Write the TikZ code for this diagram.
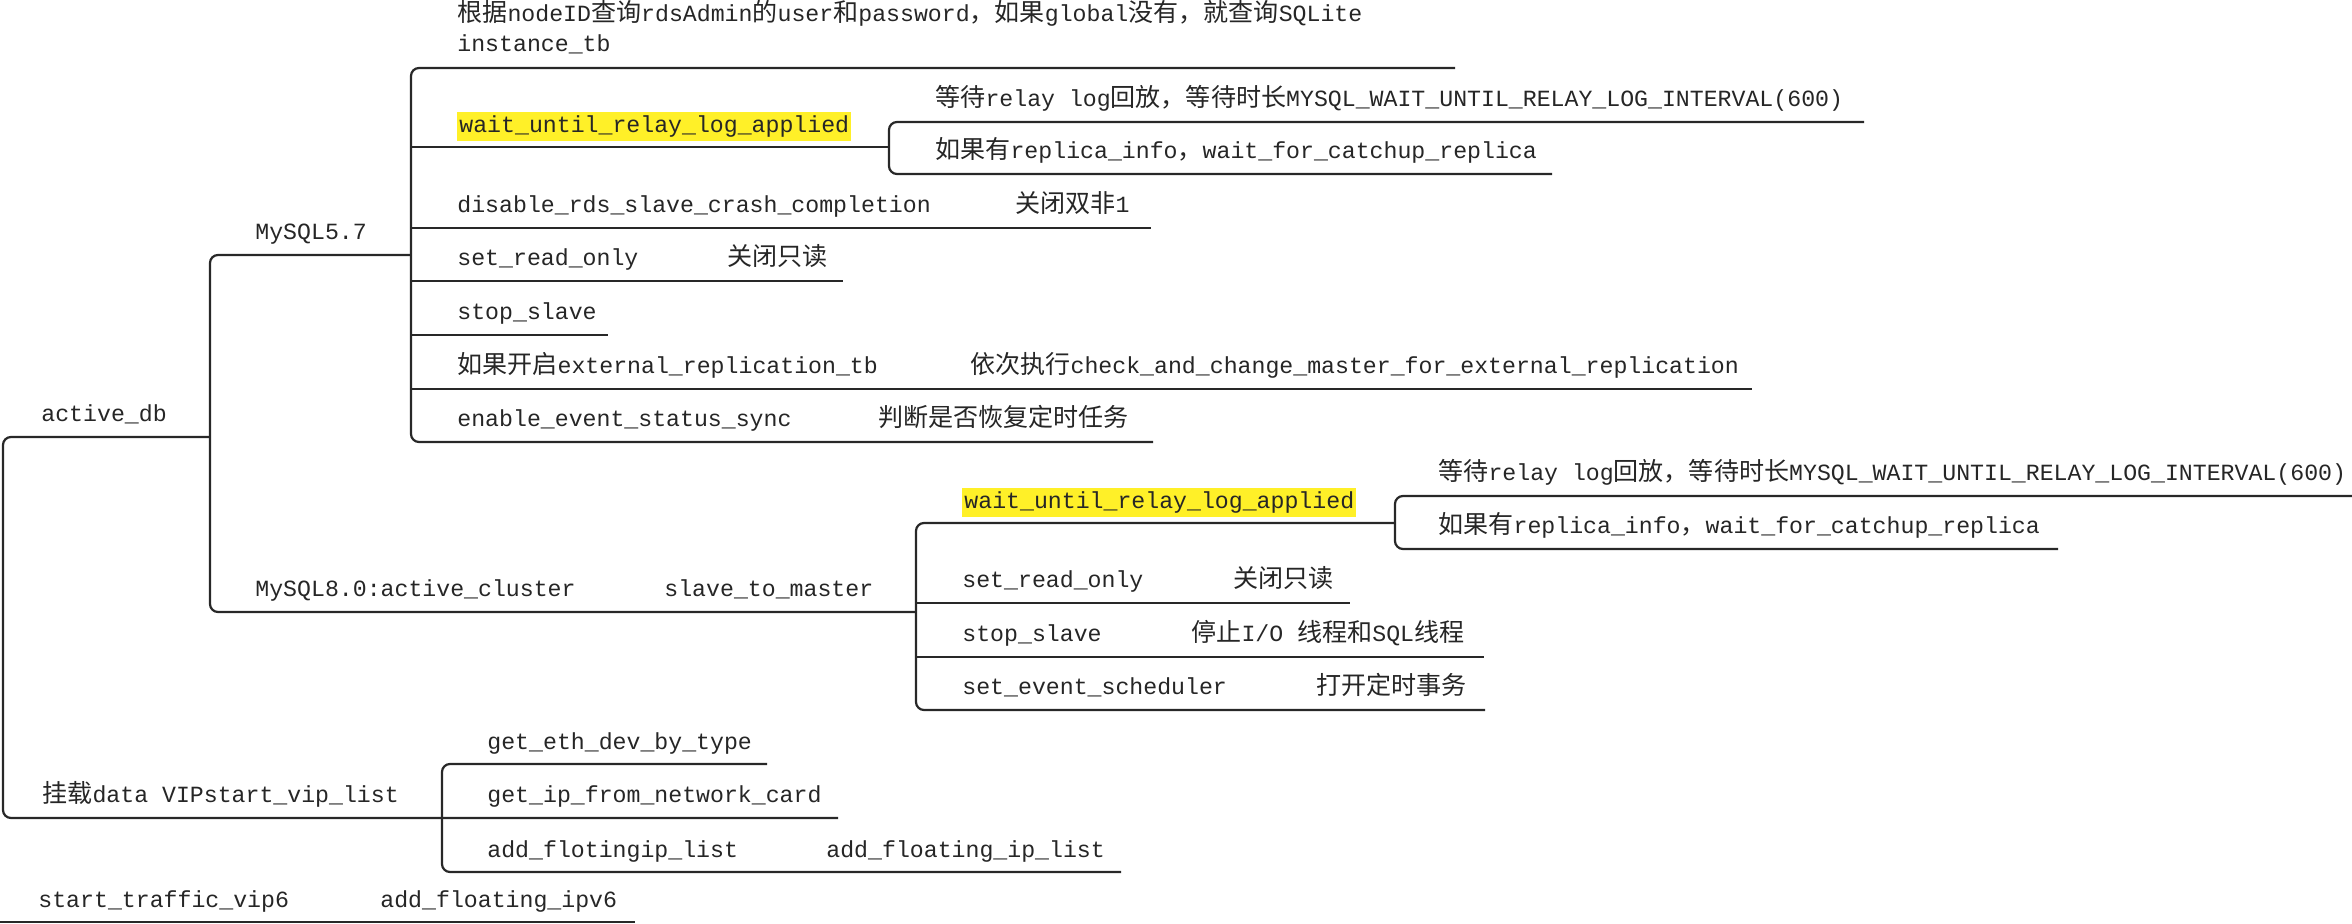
\documentclass[tikz,border=0pt]{standalone}
\usepackage{fontspec}
\setmainfont{Liberation Mono}
\newfontfamily\zhfont[Scale=1.08]{Noto Sans CJK SC}
\newcommand\zh[1]{{\zhfont #1}}
\definecolor{hl}{RGB}{255,240,40}
\definecolor{ln}{RGB}{40,40,40}
\tikzset{
  txt/.style={anchor=base west, inner sep=0pt, text=black!85, font=\fontsize{11.6pt}{14pt}\selectfont},
  hilite/.style={txt, fill=hl, inner xsep=1pt, text height=10.5pt, text depth=4pt},
  bar/.style={draw=ln, line width=1.1pt},
  bracket/.style={bar, rounded corners=4pt},
}
\begin{document}
\begin{tikzpicture}[x=0.5pt, y=-0.5pt]
\fill[white] (0,0) rectangle (2352,924);
\useasboundingbox (0,0) rectangle (2352,924);

% ---------- coordinates of brackets ----------
\coordinate (v0t) at (3,437);   \coordinate (v0b) at (3,818);
\coordinate (v1t) at (210,255); \coordinate (v1m) at (210,437); \coordinate (v1b) at (210,612);
\coordinate (v2t) at (411,68);  \coordinate (v2m) at (411,255); \coordinate (v2b) at (411,442);
\coordinate (v2a) at (411,147); \coordinate (v2c) at (411,228); \coordinate (v2d) at (411,281);
\coordinate (v2e) at (411,335); \coordinate (v2f) at (411,389);
\coordinate (v3t) at (889,122); \coordinate (v3m) at (889,147); \coordinate (v3b) at (889,174);
\coordinate (v4t) at (916,523); \coordinate (v4m) at (916,612); \coordinate (v4b) at (916,710);
\coordinate (v4c) at (916,603); \coordinate (v4d) at (916,657);
\coordinate (v5t) at (1395,496); \coordinate (v5m) at (1395,523); \coordinate (v5b) at (1395,549);
\coordinate (v6t) at (442,764); \coordinate (v6m) at (442,818); \coordinate (v6b) at (442,872);
% ends of underlines
\coordinate (e-q) at (1455,68);
\coordinate (e-dis) at (1151,228);
\coordinate (e-ro57) at (843,281);
\coordinate (e-ss57) at (608,335);
\coordinate (e-ext) at (1752,389);
\coordinate (e-ev) at (1153,442);
\coordinate (e-r1) at (1864,122);
\coordinate (e-r2) at (1552,174);
\coordinate (e-ro80) at (1350,603);
\coordinate (e-ss80) at (1484,657);
\coordinate (e-es) at (1485,710);
\coordinate (e-r3) at (2352,496);
\coordinate (e-r4) at (2058,549);
\coordinate (e-eth) at (767,764);
\coordinate (e-ipc) at (838,818);
\coordinate (e-afl) at (1121,872);
\coordinate (s-st) at (0,922);
\coordinate (e-st) at (635,922);

% ---------- texts ----------
\node[txt] (activedb) at (41,422) {active\_db};
\node[txt] (mountvip) at (42,803) {\zh{挂载}data VIPstart\_vip\_list};
\node[txt] (starttraffic) at (38,907) {start\_traffic\_vip6};
\node[txt] (addipv6) at (380,907) {add\_floating\_ipv6};

\node[txt] (m57) at (255,240) {MySQL5.7};
\node[txt] (m80) at (255,597) {MySQL8.0:active\_cluster};
\node[txt] (s2m) at (664,597) {slave\_to\_master};

\node[txt] (q1) at (457,22) {\zh{根据}nodeID\zh{查询}rdsAdmin\zh{的}user\zh{和}password\zh{，如果}global\zh{没有，就查询}SQLite};
\node[txt] (q2) at (457,52) {instance\_tb};
\node[hilite] (w57) at (457,133) {wait\_until\_relay\_log\_applied};
\node[txt] (dis) at (457,213) {disable\_rds\_slave\_crash\_completion};
\node[txt] (dis2) at (1015,213) {\zh{关闭双非}1};
\node[txt] (ro57) at (457,266) {set\_read\_only};
\node[txt] (ro57b) at (727,266) {\zh{关闭只读}};
\node[txt] (ss57) at (457,320) {stop\_slave};
\node[txt] (ext) at (457,374) {\zh{如果开启}external\_replication\_tb};
\node[txt] (ext2) at (970,374) {\zh{依次执行}check\_and\_change\_master\_for\_external\_replication};
\node[txt] (ev) at (457,427) {enable\_event\_status\_sync};
\node[txt] (ev2) at (878,427) {\zh{判断是否恢复定时任务}};

\node[txt] (r1) at (935,107) {\zh{等待}relay log\zh{回放，等待时长}MYSQL\_WAIT\_UNTIL\_RELAY\_LOG\_INTERVAL(600)};
\node[txt] (r2) at (935,159) {\zh{如果有}replica\_info\zh{，}wait\_for\_catchup\_replica};

\node[hilite] (w80) at (962,509) {wait\_until\_relay\_log\_applied};
\node[txt] (ro80) at (962,588) {set\_read\_only};
\node[txt] (ro80b) at (1233,588) {\zh{关闭只读}};
\node[txt] (ss80) at (962,642) {stop\_slave};
\node[txt] (ss80b) at (1191,642) {\zh{停止}I/O \zh{线程和}SQL\zh{线程}};
\node[txt] (es) at (962,695) {set\_event\_scheduler};
\node[txt] (es2) at (1316,695) {\zh{打开定时事务}};

\node[txt] (r3) at (1438,481) {\zh{等待}relay log\zh{回放，等待时长}MYSQL\_WAIT\_UNTIL\_RELAY\_LOG\_INTERVAL(600)};
\node[txt] (r4) at (1438,534) {\zh{如果有}replica\_info\zh{，}wait\_for\_catchup\_replica};

\node[txt] (eth) at (487,749) {get\_eth\_dev\_by\_type};
\node[txt] (ipc) at (487,803) {get\_ip\_from\_network\_card};
\node[txt] (afl) at (487,857) {add\_flotingip\_list};
\node[txt] (afl2) at (826,857) {add\_floating\_ip\_list};

% ---------- connectors ----------
\draw[bracket] (v1m) -- (v0t) -- (v0b) -- (e-ipc);
\draw[bracket] (v2m) -- (v1t) -- (v1b) -- (v4m);
\draw[bracket] (e-q) -- (v2t) -- (v2b) -- (e-ev);
\draw[bar] (v2a) -- (v3m);
\draw[bar] (v2c) -- (e-dis);
\draw[bar] (v2d) -- (e-ro57);
\draw[bar] (v2e) -- (e-ss57);
\draw[bar] (v2f) -- (e-ext);
\draw[bracket] (e-r1) -- (v3t) -- (v3b) -- (e-r2);
\draw[bracket] (v5m) -- (v4t) -- (v4b) -- (e-es);
\draw[bar] (v4c) -- (e-ro80);
\draw[bar] (v4d) -- (e-ss80);
\draw[bracket] (e-r3) -- (v5t) -- (v5b) -- (e-r4);
\draw[bracket] (e-eth) -- (v6t) -- (v6b) -- (e-afl);
\draw[bar] (s-st) -- (e-st);
\end{tikzpicture}
\end{document}
